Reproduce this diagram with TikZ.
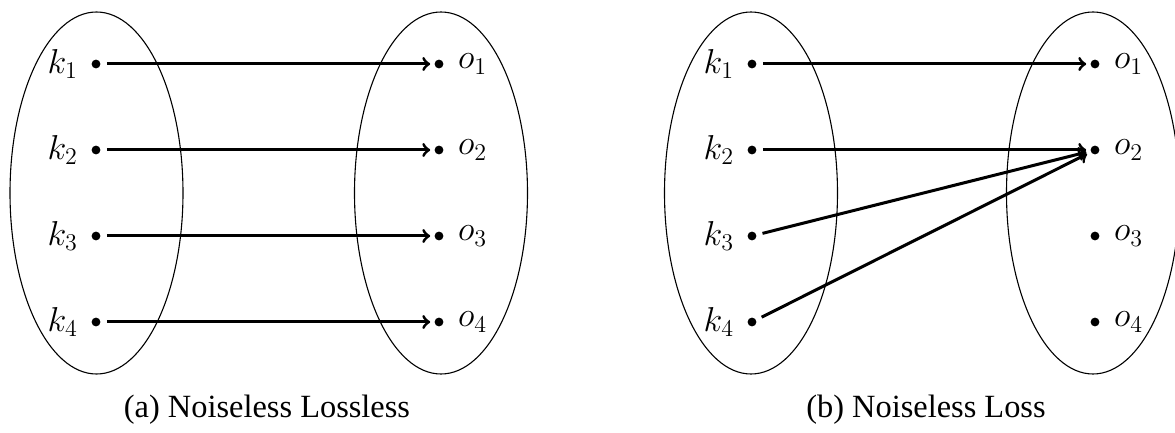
\documentclass[tikz,border=0pt]{standalone}
\usepackage{fontspec}
\setmainfont{Liberation Serif}
\usetikzlibrary{shapes.geometric}
\begin{document}
\begin{tikzpicture}[x=0.5pt,y=-0.5pt,
  setell/.style={draw,ellipse,line width=0.55pt,inner sep=0pt,minimum width=86.5pt,minimum height=181pt},
  dot/.style={circle,fill,inner sep=0pt,minimum size=4.4pt},
  kl/.style={dot,label={[inner sep=0pt,label distance=6.4pt,font=\LARGE]left:#1}},
  ol/.style={dot,label={[inner sep=0pt,label distance=6.9pt,font=\LARGE]right:#1}},
  arr/.style={->,line width=1.5pt,shorten <=3pt,shorten >=2pt},
  captext/.style={font=\rmfamily\fontsize{16.2}{19}\selectfont,inner sep=0pt}]
\useasboundingbox (0,0) rectangle (1175,433);
% panel (a)
\node[setell] (La) at (96.5,193) {};
\node[setell] (Ra) at (441,193) {};
\foreach \i/\y in {1/64,2/150,3/236,4/322}{
  \node[kl={$k_\i$}] (ka\i) at (96,\y) {};
  \node[ol={$o_\i$}] (oa\i) at (439,\y) {};
  \draw[arr] (ka\i) -- (oa\i);
}
\node[captext] (capa) at (267,410) {(a) Noiseless Lossless};
% panel (b)
\node[setell] (Lb) at (751,193) {};
\node[setell] (Rb) at (1093,193) {};
\foreach \i/\y in {1/64,2/150,3/236,4/322}{
  \node[kl={$k_\i$}] (kb\i) at (752,\y) {};
  \node[ol={$o_\i$}] (ob\i) at (1095,\y) {};
}
\draw[arr] (kb1) -- (ob1);
\draw[arr] (kb2) -- (ob2);
\draw[arr] (kb3) -- (ob2);
\draw[arr] (kb4) -- (ob2);
\node[captext] (capb) at (926,410) {(b) Noiseless Loss};
\end{tikzpicture}
\end{document}
